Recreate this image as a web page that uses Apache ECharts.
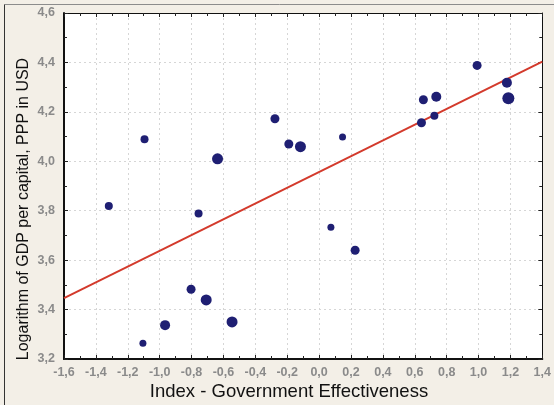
<!DOCTYPE html>
<html>
<head>
<meta charset="utf-8">
<script src="https://cdn.jsdelivr.net/npm/echarts@6/dist/echarts.min.js"></script>
<style>
html,body{margin:0;padding:0;background:#f3efe7;}
#chart{width:554px;height:405px;}
</style>
</head>
<body>
<div id="chart"></div>
<script>
// ---- data ----
var govEffectiveness = [-1.319, -1.095, -0.637, -0.756, -0.803, -0.708, -0.966, -1.105, -0.546, -0.277, -0.190, -0.117, 0.147, 0.074, 0.226, 0.654, 0.735, 0.642, 0.723, 0.991, 1.178, 1.187];
var logGdp = [3.819, 4.089, 4.010, 3.789, 3.482, 3.439, 3.337, 3.264, 3.350, 4.172, 4.070, 4.059, 4.098, 3.733, 3.640, 4.249, 4.261, 4.156, 4.184, 4.388, 4.318, 4.255];
var fitX = [-1.6, 1.4];
var fitY = [3.446, 4.403];
var xTicks = {min: -1.6, max: 1.4, step: 0.2};
var yTicks = {min: 3.2, max: 4.6, step: 0.2};
var xTitle = 'Index - Government Effectiveness';
var yTitle = 'Logarithm of GDP per capital, PPP in USD';

// ---- styling ----
var markerSizes = [8, 8, 11, 8, 9, 11, 10, 7, 11, 9, 9, 11, 7, 7, 9, 9, 10, 9, 8, 9, 10, 12];

var points = govEffectiveness.map(function (x, i) { return [x, logGdp[i]]; });
var fitLine = fitX.map(function (x, i) { return [x, fitY[i]]; });

function fmt(v) {
  if (Math.abs(v) < 1e-9) v = 0;
  return v.toFixed(1).replace('.', ',');
}

var labelStyle = {color: '#8a8a8a', fontFamily: 'Liberation Sans, Arial, sans-serif', fontSize: 12.5, fontWeight: 'bold'};

function mkAxis(isX, pos, main) {
  var t = isX ? xTicks : yTicks;
  return {
    type: 'value',
    position: pos,
    min: t.min, max: t.max, interval: t.step,
    axisLine: {show: true, onZero: false, lineStyle: {color: '#111', width: main ? 2 : 1}},
    axisTick: {show: true, inside: true, length: 4, lineStyle: {color: '#222', width: 1}},
    minorTick: {show: true, splitNumber: 2, length: 3, lineStyle: {color: '#222'}},
    axisLabel: main ? Object.assign({show: true, margin: isX ? 7 : 9, formatter: fmt}, labelStyle) : {show: false},
    splitLine: main ? {show: true, lineStyle: {color: '#d6d6d6', type: [2, 3], width: 1}} : {show: false},
    minorSplitLine: {show: false}
  };
}

var chart = echarts.init(document.getElementById('chart'), null, {renderer: 'canvas'});
chart.setOption({
  backgroundColor: '#f3efe7',
  animation: false,
  grid: {left: 64, right: 9, top: 13, bottom: 46, show: true, backgroundColor: '#ffffff', borderWidth: 0},
  xAxis: [mkAxis(true, 'bottom', true), mkAxis(true, 'top', false)],
  yAxis: [mkAxis(false, 'left', true), mkAxis(false, 'right', false)],
  series: [
    {
      type: 'line',
      data: fitLine,
      showSymbol: false,
      lineStyle: {color: '#d33a2c', width: 2},
      z: 2
    },
    {
      type: 'scatter',
      data: points,
      symbol: 'circle',
      symbolSize: function (v, p) { return markerSizes[p.dataIndex]; },
      itemStyle: {color: '#1f1f73', opacity: 1},
      z: 3
    }
  ],
  graphic: [
    {type: 'line', shape: {x1: 4.5, y1: 4.5, x2: 554, y2: 4.5}, style: {stroke: '#8c8c8c', lineWidth: 1}},
    {type: 'line', shape: {x1: 4.5, y1: 4.5, x2: 4.5, y2: 405}, style: {stroke: '#333', lineWidth: 1}},
    {type: 'text', x: 289, y: 392, style: {text: xTitle, fill: '#111', font: '18.5px "Liberation Sans", Arial, sans-serif', textAlign: 'center', textVerticalAlign: 'middle'}},
    {type: 'text', x: 24, y: 209, rotation: Math.PI / 2, style: {text: yTitle, fill: '#111', font: '16px "Liberation Sans", Arial, sans-serif', textAlign: 'center', textVerticalAlign: 'middle'}}
  ]
});
</script>
</body>
</html>
